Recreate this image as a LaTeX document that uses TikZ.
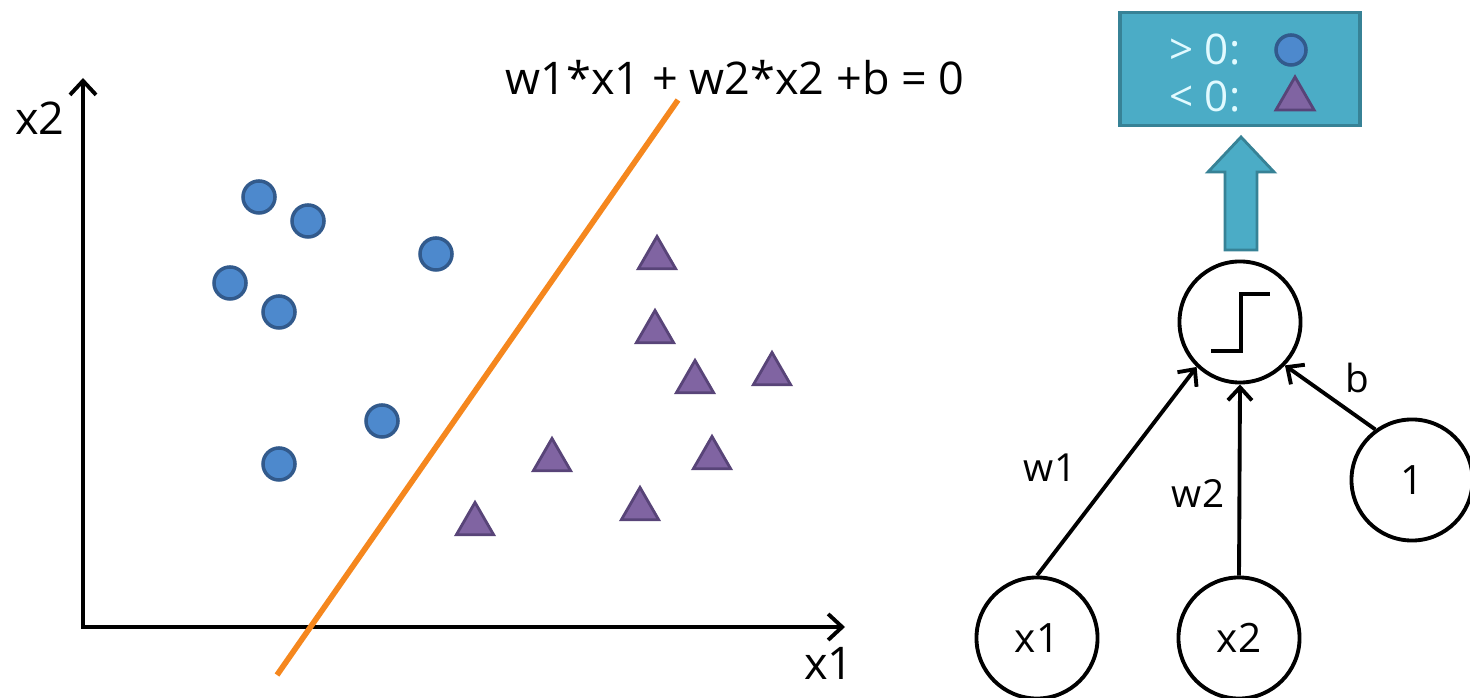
\documentclass[tikz,border=0pt]{standalone}
\usepackage{fontspec}
\setmainfont{Open Sans}
\usepackage{tikz}
\usetikzlibrary{arrows.meta,shapes.geometric}
\definecolor{dotblue}{RGB}{77,137,205}
\definecolor{dotedge}{RGB}{50,90,140}
\definecolor{trifill}{RGB}{128,100,162}
\definecolor{triedge}{RGB}{88,68,120}
\definecolor{linorange}{RGB}{245,135,30}
\definecolor{tealfill}{RGB}{75,172,198}
\definecolor{tealedge}{RGB}{55,130,150}
\definecolor{boxtext}{RGB}{225,250,255}

\tikzset{
  dot/.style={circle,fill=dotblue,draw=dotedge,line width=1pt,inner sep=0pt,minimum size=0.32cm},
  tri/.style={regular polygon,regular polygon sides=3,fill=trifill,draw=triedge,line width=0.8pt,inner sep=0pt,minimum size=0.43cm},
  unit/.style={circle,draw,line width=1.1pt,inner sep=0pt,minimum size=1.21cm,font=\fontsize{11.5pt}{13pt}\selectfont},
  wlbl/.style={inner sep=0pt,font=\fontsize{11pt}{13pt}\selectfont},
  axlbl/.style={inner sep=0pt,font=\fontsize{12.8pt}{15pt}\selectfont},
  boxlbl/.style={inner sep=0pt,text=boxtext,font=\fontsize{12pt}{14pt}\selectfont},
  axis/.style={line width=1.1pt,{Straight Barb[length=1.4mm,width=2.6mm]}-{Straight Barb[length=1.4mm,width=2.6mm]}},
  link/.style={line width=1.1pt,-{Straight Barb[length=1.3mm,width=2.4mm]}}
}

\begin{document}
\begin{tikzpicture}[x=0.01cm,y=-0.01cm]
  \useasboundingbox (0,0) rectangle (1470,698);
  % axes
  \coordinate (ytop) at (83,78);
  \coordinate (origin) at (83,627);
  \coordinate (xend) at (845,627);
  \draw[axis] (ytop) -- (origin) -- (xend);
  \node[axlbl] (xtwo) at (40,118) {x2};
  \node[axlbl] (xone) at (829,663) {x1};
  % separating line
  \coordinate (lo) at (277,675);
  \coordinate (hi) at (678,100);
  \draw[linorange,line width=1.6pt] (lo) -- (hi);
  \node[axlbl] (eq) at (735,78) {w1*x1 + w2*x2 +b = 0};
  % class one
  \foreach \px/\py [count=\i] in {259/197,308/221,436/254,230/283,279/312,382/421,279/464}
    \node[dot] (c\i) at (\px,\py) {};
  % class two
  \foreach \px/\py [count=\i] in {657/258,655/332,695/382,772/374,552/460,712/458,640/509,475/524}
    \node[tri] (t\i) at (\px,\py) {};

  % perceptron
  \node[unit] (step) at (1240,322) {};
  \draw[line width=1.1pt] ([shift={(-29,29)}]step.center) -- ++(30,0) -- ++(0,-57) -- ++(29,0);
  \node[unit] (x1) at (1037,638) {x1};
  \node[unit] (x2) at (1239,638) {x2};
  \node[unit] (one) at (1412,480) {1};
  \draw[link] (x1.north) -- (step.226);
  \draw[link] (x2.north) -- (step.south);
  \draw[link] (one.126) -- (step.316);
  \node[wlbl] (w1) at (1050,468) {w1};
  \node[wlbl] (w2) at (1198,493) {w2};
  \node[wlbl] (b) at (1357,378) {b};
  % output arrow
  \draw[fill=tealfill,draw=tealedge,line width=0.8pt]
    (1225,250) -- (1225,172) -- (1208,172) -- (1241,137) -- (1274,172) -- (1257,172) -- (1257,250) -- cycle;
  % output box
  \node[rectangle,fill=tealfill,draw=tealedge,line width=1pt,minimum width=2.4cm,minimum height=1.13cm] (out) at (1240,69) {};
  \node[boxlbl] (gt) at (1205,50) {> 0:};
  \node[boxlbl] (lt) at (1205,97) {< 0:};
  \node[dot,minimum size=0.3cm] (gtdot) at (1291,50) {};
  \node[tri,minimum size=0.44cm] (lttri) at (1295,99) {};
\end{tikzpicture}
\end{document}
